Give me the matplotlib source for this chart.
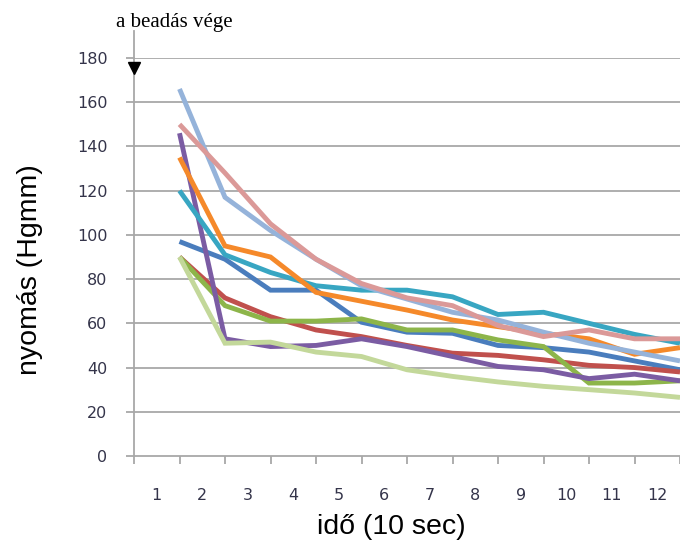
import matplotlib
matplotlib.use("Agg")
import matplotlib.pyplot as plt
import numpy as np

# ---- data ----
categories = [str(i) for i in range(1, 13)]
x_points = [1.5, 2.5, 3.5, 4.5, 5.5, 6.5, 7.5, 8.5, 9.5, 10.5, 11.5, 12.5]

dark_blue = [97, 89, 75, 75, 60.5, 56, 55.5, 50, 49, 47, 43, 39]
red = [90, 71.5, 63, 57, 54, 50, 46.5, 45.5, 43.5, 41, 40, 38]
green = [90, 68, 61, 61, 62, 57, 57, 52.5, 49.5, 33, 33, 34]
purple = [146, 53, 49.5, 50, 53, 49.5, 45, 40.5, 39, 35, 37, 34]
teal = [120, 91, 83, 77, 75, 75, 72, 64, 65, 60, 55, 51]
orange = [135, 95, 90, 74, 70, 66, 61.5, 58.5, 55.5, 53, 46, 49]
light_blue = [166, 117, 102, 89, 77, 71, 65, 61.5, 56, 51, 47, 43]
pink = [150, 128, 105, 89, 78, 71.5, 68, 59, 54, 57, 53, 53]
light_green = [90, 51, 51.5, 47, 45, 39, 36, 33.5, 31.5, 30, 28.5, 26.5]

series = [dark_blue, red, green, purple, teal, orange, light_blue, pink, light_green]
colors = ["#4A7DBD", "#C0504D", "#8DB54A", "#7B5CA3", "#38A6C2", "#F5892A",
          "#95B3DA", "#DB9998", "#C3D89A"]

y_ticks = [0, 20, 40, 60, 80, 100, 120, 140, 160, 180]
annotation_text = "a beadás vége"
x_label = "idő (10 sec)"
y_label = "nyomás (Hgmm)"

W, H = 680, 546
fig = plt.figure(figsize=(W / 100, H / 100), dpi=100)
left_px, right_px, top_px, bottom_px = 134, 680, 58, 456
ax = fig.add_axes([left_px / W, 1 - bottom_px / H,
                   (right_px - left_px) / W, (bottom_px - top_px) / H])

cat_px = 46.5
ax.set_xlim(0.5, 0.5 + (right_px - left_px) / cat_px)
ax.set_ylim(0, 180)

grid_col = "#A8A8A8"
for yv in y_ticks[1:]:
    ax.axhline(yv, color=grid_col, lw=1.3, zorder=1)

for vals, c in zip(series, colors):
    ax.plot(x_points, vals, color=c, lw=3.5, solid_joinstyle="miter",
            solid_capstyle="butt", zorder=3)

for s in ["top", "right"]:
    ax.spines[s].set_visible(False)
for s in ["left", "bottom"]:
    ax.spines[s].set_color(grid_col)
    ax.spines[s].set_linewidth(1.3)

# y axis ticks
ax.set_yticks(y_ticks)
ax.set_yticklabels([str(v) for v in y_ticks])
ax.tick_params(axis="y", which="major", length=6, width=1.3, color=grid_col,
               pad=13, labelsize=11.5, labelcolor="#34344a")

# x axis: tick marks at category boundaries, labels at centres
ax.set_xticks(np.arange(0.5, 13, 1.0))
ax.set_xticklabels([])
ax.tick_params(axis="x", which="major", length=6, width=1.3, color=grid_col)
ax.set_xticks(np.arange(1, 13), minor=True)
ax.set_xticklabels(categories, minor=True)
ax.tick_params(axis="x", which="minor", length=0, pad=23, labelsize=11.5,
               labelcolor="#34344a")

for lab in ax.get_xticklabels(minor=True) + ax.get_yticklabels():
    lab.set_family("DejaVu Sans")

# axis labels
fig.text(391 / W, 1 - 527 / H, x_label, ha="center", va="center",
         fontsize=20.5, family="Liberation Sans")
fig.text(30 / W, 1 - 270 / H, y_label, ha="center", va="center",
         fontsize=20.5, family="Liberation Sans", rotation=90)

# annotation: vertical line above axis, arrow marker, text
ax.plot([0.5, 0.5], [180, 192], color=grid_col, lw=1.3, clip_on=False, zorder=2)
ax.plot([0.5], [175.5], marker="v", color="black", markersize=8, clip_on=False,
        zorder=5)
fig.text(174 / W, 1 - 23 / H, annotation_text, ha="center", va="center",
         fontsize=15, family="Liberation Serif")

fig.savefig("out.png", dpi=100)
